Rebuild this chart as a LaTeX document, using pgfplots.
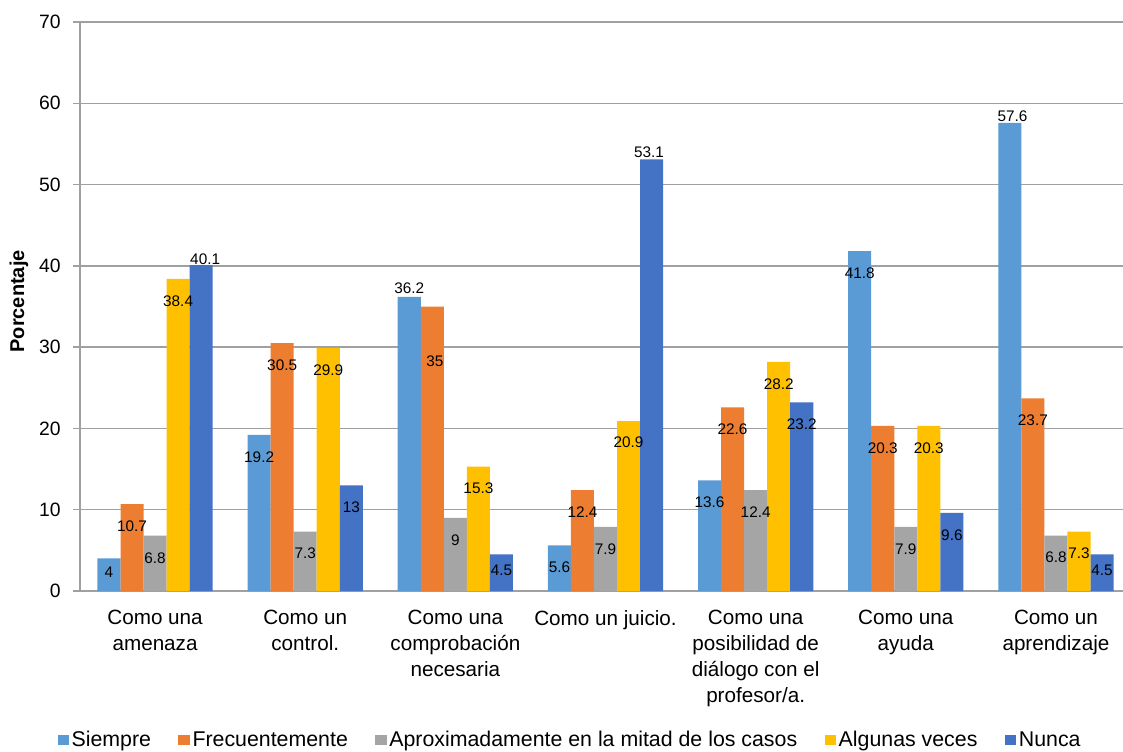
\documentclass[border=0pt]{standalone}
\usepackage{pgfplots}
\pgfplotsset{compat=1.18}
\usepackage{pgfplotstable}
\usepackage{fontspec}
\setmainfont{Liberation Sans}

\definecolor{cSiempre}{HTML}{5B9BD5}
\definecolor{cFrec}{HTML}{ED7D31}
\definecolor{cAprox}{HTML}{A5A5A5}
\definecolor{cAlgunas}{HTML}{FFC000}
\definecolor{cNunca}{HTML}{4472C4}
\definecolor{gridc}{HTML}{A0A0A0}

% x: category index, y: percentage, dx/dy: label offset from bar top (pt)
\pgfplotstableread{
x y dx dy
0 4    0 -10.5
1 19.2 0 -16.5
2 36.2 0 6.75
3 5.6  0 -16.5
4 13.6 0 -16.5
5 41.8 0 -16.5
6 57.6 2 5.25
}\siempre
\pgfplotstableread{
x y dx dy
0 10.7 0 -16.5
1 30.5 0 -16.5
2 35   2 -41.25
3 12.4 0 -16.5
4 22.6 0 -16.5
5 20.3 0 -16.5
6 23.7 0 -16.5
}\frecuente
\pgfplotstableread{
x y dx dy
0 6.8  0 -16.5
1 7.3  0 -16.5
2 9    0 -16.5
3 7.9  0 -16.5
4 12.4 0 -16.5
5 7.9  0 -16.5
6 6.8  0 -15.75
}\aprox
\pgfplotstableread{
x y dx dy
0 38.4 0 -16.5
1 29.9 0 -16.5
2 15.3 0 -16.5
3 20.9 0 -15.75
4 28.2 0 -16.5
5 20.3 0 -16.5
6 7.3  0 -16.5
}\algunas
\pgfplotstableread{
x y dx dy
0 40.1 3  4.5
1 13   0 -16.5
2 4.5  0 -12
3 53.1 -2 5.25
4 23.2 0 -16.5
5 9.6  0 -16.5
6 4.5  0 -12
}\nunca

\begin{document}
\begin{tikzpicture}
\begin{axis}[
  scale only axis,
  width=788.25pt, height=426.75pt,
  ybar=0pt,
  bar width=0.1535,
  xmin=-0.5, xmax=6.5,
  ymin=0, ymax=70,
  ytick={0,10,...,70},
  xtick=data,
  xticklabels={{Como una\\amenaza},{Como un\\control.},{Como una\\comprobación\\necesaria},{Como un juicio.},{Como una\\posibilidad de\\diálogo con el\\profesor/a.},{Como una\\ayuda},{Como un\\aprendizaje}},
  xticklabel style={align=center, anchor=north, yshift=-6pt,
    font=\fontsize{15.5}{19.3}\selectfont},
  yticklabel style={font=\fontsize{14.5}{17}\selectfont, xshift=-6pt},
  /pgf/number format/assume math mode=true,
  axis x line*=bottom, axis y line*=left,
  axis line style={draw=gridc, line width=1pt, -},
  x tick style={draw=none},
  y tick style={draw=gridc, line width=1pt},
  tick align=outside,
  major tick length=5pt,
  ymajorgrids,
  major grid style={draw=gridc, line width=1pt},
  ylabel={Porcentaje},
  ylabel style={font=\bfseries\fontsize{15}{18}\selectfont, at={(axis description cs:-0.058,0.509)}, anchor=center},
  legend columns=5,
  legend style={at={(axis description cs:0.4666,-0.2618)}, anchor=center, draw=none,
    font=\fontsize{16}{18}\selectfont,
    /tikz/every even column/.append style={column sep=18.5pt}},
  legend image code/.code={\fill[#1] (0pt,-3.8pt) rectangle (8.6pt,3.8pt);},
  nodes near coords,
  visualization depends on={\thisrow{dx} \as \ldx},
  visualization depends on={\thisrow{dy} \as \ldy},
  nodes near coords style={font=\fontsize{11.5}{13}\selectfont, text=black, anchor=center,
    xshift=\ldx pt, yshift=\ldy pt},
]
\addplot[fill=cSiempre, draw=none] table[x=x, y=y] {\siempre};
\addplot[fill=cFrec, draw=none] table[x=x, y=y] {\frecuente};
\addplot[fill=cAprox, draw=none] table[x=x, y=y] {\aprox};
\addplot[fill=cAlgunas, draw=none] table[x=x, y=y] {\algunas};
\addplot[fill=cNunca, draw=none] table[x=x, y=y] {\nunca};
\legend{Siempre, Frecuentemente, Aproximadamente en la mitad de los casos, Algunas veces, Nunca}
\end{axis}
\pgfresetboundingbox
\path (-60pt,-120pt) rectangle (782.25pt,443.25pt);
\end{tikzpicture}
\end{document}
